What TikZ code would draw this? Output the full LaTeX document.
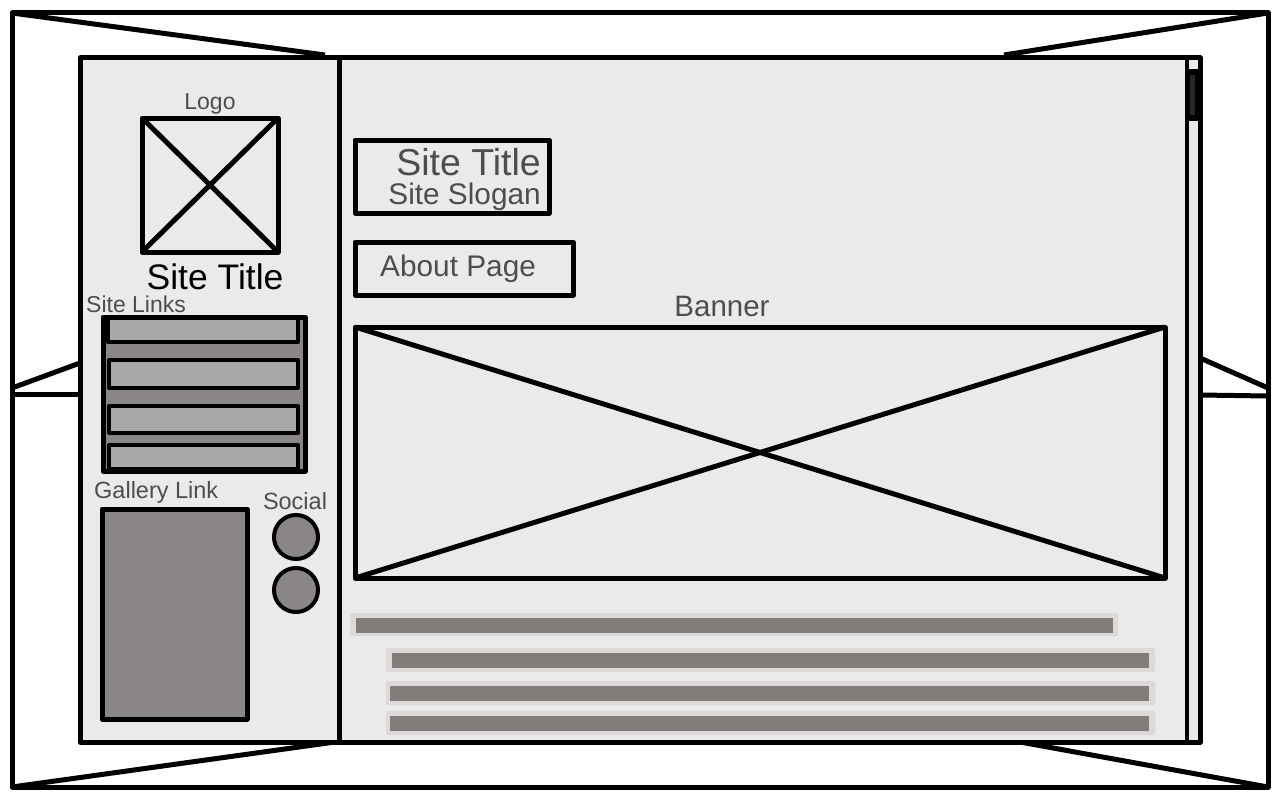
\documentclass[tikz,border=0pt]{standalone}
\usepackage{fontspec}
\setmainfont{Liberation Sans}
\usetikzlibrary{fit}
\definecolor{screenbg}{HTML}{EAEAEA}
\definecolor{blockgray}{HTML}{8A8685}
\definecolor{linkgray}{HTML}{A9A7A7}
\definecolor{lineshade}{HTML}{DED9D9}
\definecolor{linefill}{HTML}{827C7B}
\definecolor{labelgray}{HTML}{4D4D4D}
\definecolor{thumbcol}{HTML}{2B2627}
\begin{document}
\begin{tikzpicture}[x=1pt,y=-1pt,line join=round,
  frameline/.style={line width=5pt},
  box/.style={draw,line width=5pt,inner sep=0pt,outer sep=0pt},
  thinbox/.style={draw,line width=4pt,inner sep=0pt,outer sep=0pt},
  shade/.style={fill=lineshade,rounded corners=2pt,inner sep=0pt,outer sep=0pt},
  textline/.style={fill=linefill,inner sep=0pt,outer sep=0pt},
  label/.style={inner sep=0pt,text=labelgray},
]
\useasboundingbox (0,0) rectangle (1280,800);
\fill[white] (0,0) rectangle (1280,800);

% room outline and perspective edges
\node[box,fit={(12,13)(1268,787)}] (room) {};
\coordinate (tl) at (325,55);
\coordinate (tr) at (1004,55);
\coordinate (ml) at (80,363);
\coordinate (mlh) at (80,394);
\coordinate (mr) at (1200,358);
\coordinate (mrh) at (1200,395);
\coordinate (bl) at (335,742);
\coordinate (br) at (1020,742);
\coordinate (roomml) at (12,388);
\coordinate (roommlh) at (12,394);
\coordinate (roommr) at (1268,388);
\coordinate (roommrh) at (1268,396);
\draw[frameline] (room.north west) -- (tl);
\draw[frameline] (room.north east) -- (tr);
\draw[frameline] (room.south west) -- (bl);
\draw[frameline] (room.south east) -- (br);
\draw[frameline] (roomml) -- (ml);
\draw[frameline] (roommlh) -- (mlh);
\draw[frameline] (roommr) -- (mr);
\draw[frameline] (roommrh) -- (mrh);

% screen: sidebar and main area
\node[box,fill=screenbg,fit={(80,58)(339,742)}] (sidebar) {};
\node[box,fill=screenbg,fit={(339,58)(1200,742)}] (main) {};

% scrollbar
\node[thinbox,fill=screenbg,fit={(1187,58)(1200,742)}] (scroll) {};
\fill[black] (1187,69) rectangle (1200,121);
\node[fill=screenbg,inner sep=0pt,fit={(1190,61)(1197,69)}] (scrolltop) {};
\node[fill=thumbcol,inner sep=0pt,fit={(1190,75)(1195,115)}] (thumb) {};

% logo
\node[label,anchor=base,font=\fontsize{23}{27}\selectfont] (logolbl) at (210,110) {Logo};
\node[box,fit={(142,118)(278,252)}] (logo) {};
\draw[frameline] (logo.north west) -- (logo.south east);
\draw[frameline] (logo.north east) -- (logo.south west);
\node[inner sep=0pt,anchor=base,font=\fontsize{35.5}{41}\selectfont] (sidetitle) at (215,289) {Site Title};

% site links
\node[label,anchor=base west,font=\fontsize{23}{27}\selectfont] (linkslbl) at (86,312) {Site Links};
\node[box,fill=blockgray,fit={(103,317)(305,471)}] (links) {};
\node[thinbox,fill=linkgray,fit={(108,318)(298,342)}] (link1) {};
\node[thinbox,fill=linkgray,fit={(109,360)(298,388)}] (link2) {};
\node[thinbox,fill=linkgray,fit={(109,406)(298,433)}] (link3) {};
\node[thinbox,fill=linkgray,fit={(109,445)(298,469)}] (link4) {};

% gallery link
\node[label,anchor=base west,font=\fontsize{23.5}{28}\selectfont] (gallerylbl) at (94,498) {Gallery Link};
\node[box,fill=blockgray,fit={(102,509)(247,719)}] (gallery) {};

% social icons
\node[label,anchor=base,font=\fontsize{23.5}{28}\selectfont] (sociallbl) at (295,509) {Social};
\node[circle,draw,line width=4pt,fill=blockgray,minimum size=44pt,inner sep=0pt] (social1) at (296,537) {};
\node[circle,draw,line width=4pt,fill=blockgray,minimum size=44pt,inner sep=0pt] (social2) at (296,590) {};

% header blocks
\node[box,fit={(355,140)(549,213)}] (titlebox) {};
\node[label,anchor=base east,font=\fontsize{37.5}{44}\selectfont] (titletxt) at (541,175) {Site Title};
\node[label,anchor=base east,font=\fontsize{29.8}{35}\selectfont] (slogantxt) at (541,204) {Site Slogan};
\node[box,fit={(355,242)(573,295)}] (aboutbox) {};
\node[label,anchor=base west,font=\fontsize{29.8}{35}\selectfont] (abouttxt) at (380,276) {About Page};

% banner
\node[label,anchor=base,font=\fontsize{29.5}{35}\selectfont] (bannerlbl) at (722,316) {Banner};
\node[box,fit={(355,327)(1165,578)}] (banner) {};
\draw[frameline] (banner.north west) -- (banner.south east);
\draw[frameline] (banner.north east) -- (banner.south west);

% body text lines
\node[shade,fit={(350,613)(1118,636)}] (lineA) {};
\node[textline,fit={(356,618)(1113,633)}] (lineAin) {};
\node[shade,fit={(386,648)(1155,672)}] (lineB) {};
\node[textline,fit={(392,653)(1149,668)}] (lineBin) {};
\node[shade,fit={(386,681)(1155,705)}] (lineC) {};
\node[textline,fit={(390,686)(1149,701)}] (lineCin) {};
\node[shade,fit={(386,711)(1155,735)}] (lineD) {};
\node[textline,fit={(390,716)(1149,731)}] (lineDin) {};
\end{tikzpicture}
\end{document}
